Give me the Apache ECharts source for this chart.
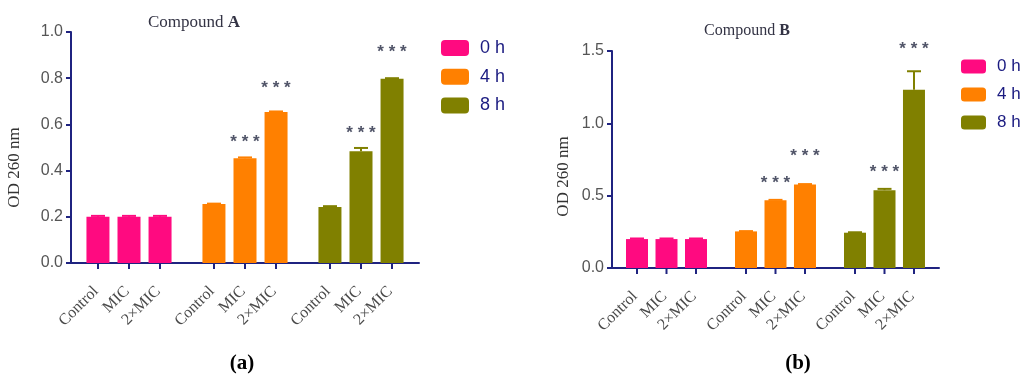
<!DOCTYPE html>
<html><head><meta charset="utf-8">
<script src="https://cdn.jsdelivr.net/npm/echarts@6/dist/echarts.min.js"></script>
<style>html,body{margin:0;padding:0;background:#fff}#c{width:1024px;height:384px}</style>
</head><body><div id="c"></div>
<script>
// ---- data ----
const timeGroups = ['0 h', '4 h', '8 h'];
const treatments = ['Control', 'MIC', '2×MIC'];
const groupColors = ['#FF0A80', '#FF8000', '#808000'];

// Compound A
const aControl = [0.200, 0.255, 0.242];
const aMIC     = [0.200, 0.453, 0.484];
const a2MIC    = [0.200, 0.654, 0.798];
const aErrControl = [0.004, 0.002, 0.004];
const aErrMIC     = [0.004, 0.004, 0.014];
const aErr2MIC    = [0.004, 0.002, 0.002];
const aStarsMIC   = [null, 0.535, 0.574];
const aStars2MIC  = [null, 0.769, 0.923];

// Compound B
const bControl = [0.200, 0.253, 0.244];
const bMIC     = [0.200, 0.469, 0.538];
const b2MIC    = [0.200, 0.578, 1.233];
const bErrControl = [0.004, 0.002, 0.003];
const bErrMIC     = [0.004, 0.002, 0.009];
const bErr2MIC    = [0.004, 0.002, 0.127];
const bStarsMIC   = [null, 0.607, 0.681];
const bStars2MIC  = [null, 0.796, 1.534];

const yMaxA = 1.0, yIntA = 0.2;
const yMaxB = 1.5, yIntB = 0.5;

// ---- styles ----
const NAVY = '#1f2380';
const SERIF = '"Liberation Serif", "Times New Roman", serif';
const SANS = '"Liberation Sans", Arial, sans-serif';
const layoutA = { barWidth: 23, gap: '35%', spacing: 31, capHalf: 7 };
const layoutB = { barWidth: 22, gap: '34%', spacing: 29.5, capHalf: 7 };

function decorData(vals, errs, stars) {
  const out = [];
  for (let t = 0; t < 3; t++) for (let g = 0; g < 3; g++) {
    out.push([g, t, vals[t][g], errs[t][g], stars[t][g] == null ? NaN : stars[t][g]]);
  }
  return out;
}

function makeRender(cfg) {
  return function (params, api) {
    const g = api.value(0), t = api.value(1), v = api.value(2), e = api.value(3), s = api.value(4);
    const base = api.coord([g, 0]);
    const cx = base[0] + (t - 1) * cfg.spacing;
    const y0 = base[1];
    const color = groupColors[g];
    const ch = [];
    ch.push({ type: 'line', shape: { x1: cx, y1: y0, x2: cx, y2: y0 + 6 }, style: { stroke: NAVY, lineWidth: 2 } });
    ch.push({ type: 'text', x: cx - 2, y: y0 + 26, rotation: Math.PI / 4,
      style: { text: treatments[t], fill: '#4a4a4a', font: '16px ' + SERIF, align: 'right', verticalAlign: 'middle' } });
    if (e > 0) {
      const yt = api.coord([g, v + e])[1];
      const yb = api.coord([g, v])[1];
      ch.push({ type: 'line', shape: { x1: cx, y1: yb, x2: cx, y2: yt }, style: { stroke: color, lineWidth: 2 } });
      ch.push({ type: 'line', shape: { x1: cx - cfg.capHalf, y1: yt, x2: cx + cfg.capHalf, y2: yt }, style: { stroke: color, lineWidth: 2 } });
    }
    if (!isNaN(s)) {
      const ys = api.coord([g, s])[1];
      ch.push({ type: 'text', x: cx, y: ys + 3, style: { text: '* * *', fill: '#505468', font: 'bold 17px ' + SANS, align: 'center', verticalAlign: 'middle' } });
    }
    return { type: 'group', children: ch };
  };
}

function barSeries(name, vals, axis, cfg) {
  return {
    name: name, type: 'bar', xAxisIndex: axis, yAxisIndex: axis,
    barWidth: cfg.barWidth, barGap: cfg.gap,
    data: vals.map((v, i) => ({ value: v, itemStyle: { color: groupColors[i] } })),
    silent: true
  };
}

const chart = echarts.init(document.getElementById('c'));
const series = [
  barSeries('Control', aControl, 0, layoutA),
  barSeries('MIC', aMIC, 0, layoutA),
  barSeries('2×MIC', a2MIC, 0, layoutA),
  barSeries('Control', bControl, 1, layoutB),
  barSeries('MIC', bMIC, 1, layoutB),
  barSeries('2×MIC', b2MIC, 1, layoutB),
  { type: 'custom', xAxisIndex: 0, yAxisIndex: 0, clip: false, z: 5,
    renderItem: makeRender(layoutA), encode: { x: 0, y: 2 },
    data: decorData([aControl, aMIC, a2MIC], [aErrControl, aErrMIC, aErr2MIC], [[null,null,null], aStarsMIC, aStars2MIC]) },
  { type: 'custom', xAxisIndex: 1, yAxisIndex: 1, clip: false, z: 5,
    renderItem: makeRender(layoutB), encode: { x: 0, y: 2 },
    data: decorData([bControl, bMIC, b2MIC], [bErrControl, bErrMIC, bErr2MIC], [[null,null,null], bStarsMIC, bStars2MIC]) }
];
timeGroups.forEach((n, i) => series.push({ name: n, type: 'scatter', xAxisIndex: 0, yAxisIndex: 0, data: [], itemStyle: { color: groupColors[i], opacity: 1 } }));

function yAxis(gi, max, intv, nameGap, shift) {
  return {
    gridIndex: gi, type: 'value', min: 0, max: max, interval: intv,
    name: 'OD 260 nm', nameLocation: 'middle', nameGap: nameGap,
    nameTextStyle: { fontFamily: SERIF, fontSize: 17, color: '#333', padding: [0, shift, 0, 0] },
    axisLine: { show: true, lineStyle: { color: NAVY, width: 2 } },
    axisTick: { show: true, length: 5, lineStyle: { color: NAVY, width: 2 } },
    axisLabel: { color: '#555', fontFamily: SANS, fontSize: 16, margin: 8, formatter: v => v.toFixed(1) },
    splitLine: { show: false }
  };
}
function xAxis(gi) {
  return {
    gridIndex: gi, type: 'category', data: timeGroups,
    axisLine: { lineStyle: { color: NAVY, width: 2 } },
    axisTick: { show: false }, axisLabel: { show: false }
  };
}

chart.setOption({
  animation: false,
  backgroundColor: '#fff',
  title: [
    { text: 'Compound {b|A}', left: 189, top: 9, textAlign: 'center',
      textStyle: { fontFamily: SERIF, fontSize: 17, fontWeight: 'normal', color: '#333344',
        rich: { b: { fontFamily: SERIF, fontSize: 17, fontWeight: 'bold', color: '#333344' } } } },
    { text: 'Compound {b|B}', left: 742, top: 18, textAlign: 'center',
      textStyle: { fontFamily: SERIF, fontSize: 16, fontWeight: 'normal', color: '#333344',
        rich: { b: { fontFamily: SERIF, fontSize: 16, fontWeight: 'bold', color: '#333344' } } } },
    { text: '(a)', left: 237, top: 348, textAlign: 'center',
      textStyle: { fontFamily: SERIF, fontSize: 21, fontWeight: 'bold', color: '#000' } },
    { text: '(b)', left: 793, top: 348, textAlign: 'center',
      textStyle: { fontFamily: SERIF, fontSize: 21, fontWeight: 'bold', color: '#000' } }
  ],
  legend: [
    { data: timeGroups, orient: 'vertical', left: 441, top: 39, padding: 0, icon: 'roundRect',
      itemWidth: 28, itemHeight: 16, itemGap: 10.7, selectedMode: false,
      itemStyle: { opacity: 1 },
      textStyle: { fontFamily: SANS, fontSize: 18, color: '#1a1a80', padding: [0, 0, 0, 6] } },
    { data: timeGroups, orient: 'vertical', left: 961, top: 58, padding: 0, icon: 'roundRect',
      itemWidth: 25, itemHeight: 14, itemGap: 11, selectedMode: false,
      itemStyle: { opacity: 1 },
      textStyle: { fontFamily: SANS, fontSize: 17, color: '#1a1a80', padding: [0, 0, 0, 6] } }
  ],
  grid: [
    { left: 71, top: 32, width: 348, height: 231 },
    { left: 612, top: 51, width: 327, height: 217 }
  ],
  xAxis: [xAxis(0), xAxis(1)],
  yAxis: [yAxis(0, yMaxA, yIntA, 48, 40), yAxis(1, yMaxB, yIntB, 40, 34)],
  series: series
});
</script>
</body></html>
